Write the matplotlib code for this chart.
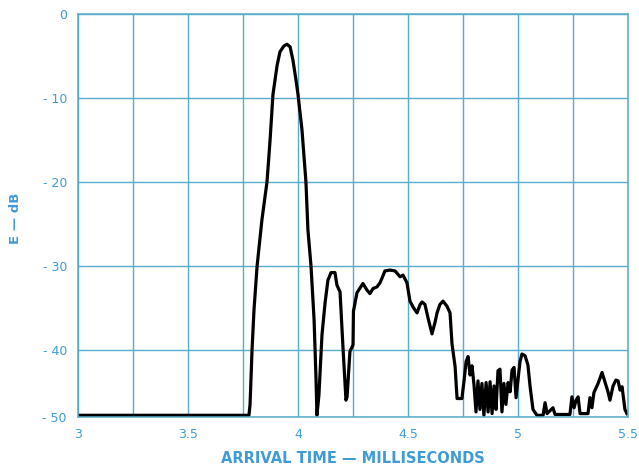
import matplotlib
matplotlib.use("Agg")
import matplotlib.pyplot as plt
import numpy as np

# arrival time (ms) and level (dB)
time_ms = [3.000, 3.777, 3.782, 3.791, 3.800, 3.814, 3.836, 3.859, 3.873, 3.886,
           3.905, 3.918, 3.936, 3.950, 3.964, 3.977, 3.991, 4.000, 4.018, 4.036,
           4.045, 4.059, 4.073, 4.082, 4.086, 4.095, 4.109, 4.123, 4.136, 4.150,
           4.168, 4.177, 4.191, 4.205, 4.218, 4.223, 4.236, 4.250, 4.252, 4.268,
           4.295, 4.314, 4.327, 4.341, 4.359, 4.373, 4.386, 4.395, 4.418, 4.441,
           4.464, 4.477, 4.495, 4.509, 4.523, 4.541, 4.555, 4.564, 4.577, 4.591,
           4.609, 4.623, 4.632, 4.645, 4.659, 4.677, 4.691, 4.700, 4.714, 4.723,
           4.745, 4.755, 4.764, 4.773, 4.782, 4.791, 4.800, 4.809, 4.818, 4.827,
           4.836, 4.845, 4.855, 4.864, 4.873, 4.882, 4.891, 4.900, 4.909, 4.918,
           4.927, 4.936, 4.945, 4.955, 4.964, 4.973, 4.982, 4.991, 5.000, 5.009,
           5.018, 5.032, 5.045, 5.055, 5.068, 5.086, 5.114, 5.123, 5.132, 5.159,
           5.168, 5.236, 5.245, 5.255, 5.264, 5.273, 5.282, 5.318, 5.327, 5.336,
           5.345, 5.364, 5.382, 5.395, 5.409, 5.418, 5.432, 5.445, 5.455, 5.464,
           5.473, 5.486, 5.495]
level_db = [-47.8, -47.8, -46.5, -40.0, -35.2, -30.0, -24.5, -20.0, -15.0, -9.6,
            -6.1, -4.5, -3.8, -3.6, -3.9, -5.5, -7.9, -9.6, -13.8, -20.0,
            -25.7, -30.0, -36.4, -43.6, -47.8, -45.4, -38.2, -34.4, -31.7, -30.8,
            -30.8, -32.3, -33.1, -40.0, -46.0, -45.6, -40.2, -39.4, -35.4, -33.2,
            -32.1, -32.9, -33.3, -32.7, -32.5, -32.0, -31.2, -30.6, -30.5, -30.6,
            -31.3, -31.1, -32.0, -34.2, -34.9, -35.6, -34.6, -34.3, -34.6, -36.2,
            -38.1, -36.7, -35.6, -34.6, -34.2, -34.8, -35.6, -39.3, -42.0, -45.8,
            -45.8, -43.6, -41.4, -40.8, -43.0, -41.9, -44.2, -47.4, -43.7, -47.1,
            -44.0, -47.8, -43.9, -47.4, -43.8, -47.6, -44.3, -47.1, -42.5, -42.3,
            -47.4, -44.0, -46.5, -43.9, -45.0, -42.4, -42.1, -45.7, -43.6, -41.4,
            -40.5, -40.7, -41.8, -44.4, -47.1, -47.8, -47.8, -46.3, -47.6, -46.9,
            -47.7, -47.7, -45.6, -46.9, -46.0, -45.6, -47.6, -47.6, -45.7, -46.9,
            -45.1, -44.0, -42.7, -43.8, -45.0, -46.0, -44.3, -43.6, -43.7, -44.8,
            -44.4, -47.1, -47.6]

x_ticks = [3, 3.5, 4, 4.5, 5, 5.5]
x_tick_labels = ["3", "3.5", "4", "4.5", "5", "5.5"]
y_ticks = [0, -10, -20, -30, -40, -48]
y_tick_labels = ["0", "- 10", "- 20", "- 30", "- 40", "- 50"]

grid_col = "#56adc9"
text_col = "#3f9bd6"

fig = plt.figure(figsize=(6.39, 4.68), dpi=100)
ax = fig.add_axes([0.1221, 0.109, 0.8607, 0.861])

ax.plot(time_ms, level_db, color="black", lw=2.3, solid_joinstyle="round")

ax.set_xlim(3, 5.5)
ax.set_ylim(-48, 0)
ax.set_xticks(x_ticks)
ax.set_xticklabels(x_tick_labels)
ax.set_xticks(np.arange(3, 5.51, 0.25), minor=True)
ax.set_yticks(y_ticks)
ax.set_yticklabels(y_tick_labels)
ax.grid(True, which="both", color=grid_col, lw=1.0)
ax.tick_params(which="both", length=0, colors=text_col, labelsize=9)
ax.tick_params(axis="x", pad=8)
ax.tick_params(axis="y", pad=8)
for s in ax.spines.values():
    s.set_color(grid_col)
    s.set_linewidth(1.1)

fig.text(0.553, 0.021, "ARRIVAL TIME — MILLISECONDS", color=text_col, fontsize=10.5,
         fontweight="bold", ha="center", va="center")
fig.text(0.0235, 0.534, "E — dB", color=text_col, fontsize=9.5, fontweight="bold",
         rotation=90, ha="center", va="center")

fig.savefig("out.png", dpi=100)
